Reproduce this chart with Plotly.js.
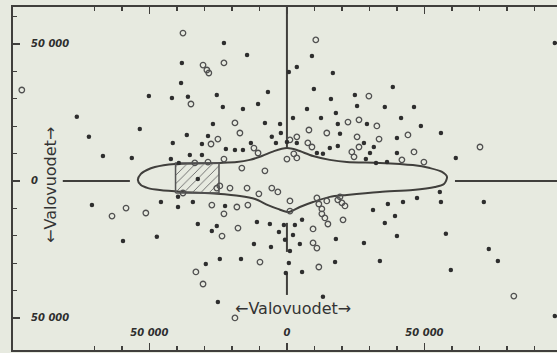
<!DOCTYPE html>
<html>
<head>
<meta charset="utf-8">
<script src="https://cdn.plot.ly/plotly-3.0.1.min.js"></script>
<style>html,body{margin:0;padding:0;background:#e7eae0;}#chart{width:557px;height:353px;}</style>
</head>
<body>
<div id="chart"></div>
<script>
// Filled dots (light-years)
const dotX = [-22900,-14500,-38200,-38500,-50200,-41800,-36000,-25500,-6900,-23300,-16000,-10500,-76400,-53500,-72000,-26900,-8000,-2500,-36400,-28700,-30900,-41500,-22200,-18900,-16000,-13100,-5500,-4000,-2200,-66900,-56400,-35300,-30900,-42200,-39300,700,3600,9100,16700,9800,38500,16000,24700,25500,35600,7300,46200,2200,12400,17800,41500,18500,29100,48700,56000,19300,40000,28000,18500,15600,31600,40000,61400,36400,32400,28700,0,3600,10900,13100,30200,97400,
-70900,-45800,-39600,-34200,-39600,-22500,-59600,-47300,-32400,-25500,-27300,-10900,-6200,-12000,-5800,-24400,-16700,-29500,-25100,5500,-1100,2900,-2900,2200,-700,4700,17800,1100,700,-400,5500,17500,13100,31300,36700,42200,47300,55600,56000,71600,35600,39300,40000,28000,33800,57800,59600,73400,76700,97400,-32400];
const dotY = [50400,46000,43100,35800,31000,30300,30700,31400,32500,27000,26300,28100,23400,19000,16100,20800,21200,20800,16800,16400,13500,13900,11700,11300,11300,13900,16100,13900,17500,9100,8400,9500,9500,8000,6600,39800,41600,45600,39400,33600,34300,29900,31400,27400,27000,26300,27000,23000,23000,24800,23000,20800,20800,20100,17500,17200,15700,13900,12800,12000,12400,10200,8400,6900,6600,8000,14200,13900,10200,9900,10200,50400,
-8800,-7700,-9500,-7700,-5800,-9100,-21900,-20400,-15700,-16400,-18300,-15000,-15700,-23000,-24100,-28500,-28500,-30300,-44200,-14200,-16100,-16100,-18600,-19700,-21500,-23000,-21200,-25600,-29900,-33600,-33200,-29600,-42300,-10600,-8400,-7700,-6200,-4000,-7700,-7700,-15300,-12800,-20100,-22600,-29200,-19300,-32500,-24800,-29200,-49300,700];

// Open circles (light-years)
const openX = [-37800,10500,-30500,-29100,-28400,-22900,-96400,-34900,-18900,-17100,-25100,-27600,-12000,-10500,-33500,-28700,-22900,-16400,-8000,29800,22200,26200,32700,8000,14500,25500,33500,44000,26200,23600,24400,46200,49800,41800,70200,1100,3600,7600,9100,2500,3600,0,
-58500,-63600,-51300,-27300,-18200,-14200,-22900,-23600,-17800,-9800,-33100,-30500,-18900,-25500,-24400,-20700,-14500,-10200,-5500,-3300,1100,1100,10900,11600,12700,14500,18500,20000,21100,19300,12700,13800,14900,20400,9500,9500,10900,11600,82500,-37800];
const openY = [54000,51500,42300,40500,39400,43100,33200,28100,21200,17500,15300,13500,12000,10200,6600,6900,8000,4700,3700,31000,21500,22300,20100,18600,17500,16100,15300,16800,12400,10600,8800,10600,6900,7700,12400,15000,16100,13900,12400,9900,8400,8000,
-9900,-12800,-11700,-8800,-9500,-8800,-12000,-20100,-17200,-29600,-33200,-37600,-50000,-2600,-1800,-2600,-2600,-4700,-2600,-4000,-7300,-11000,-6200,-8400,-10200,-7300,-6900,-8000,-9100,-5800,-12000,-13500,-15700,-14200,-17500,-22600,-24500,-31400,-42000,-4400];

// Galaxy outline (light-years)
const galaxyX = [-54200,-53100,-50900,-48000,-40700,-24400,-18200,-13500,-9100,-4700,0,3600,9500,15600,21800,33800,45800,52000,56400,58200,57100,53800,45800,33800,21800,15600,9500,4700,700,-3300,-6900,-11600,-17100,-25500,-37800,-46200,-50500,-53100,-54200];
const galaxyY = [400,2600,4000,5100,6200,6600,6900,7700,9100,10900,12000,11300,9100,7700,6900,6600,5800,4700,3300,1500,-1100,-2200,-3300,-4000,-5100,-5800,-7700,-9500,-11300,-10200,-8800,-6600,-5500,-4700,-4000,-3300,-2600,-1500,400];

// Sun region (hatched box)
const boxX = [-40500,-24700,-24700,-40500,-40500];
const boxY = [-4400,-4400,6600,6600,-4400];

// Reference lines
const vLineX = [0,0,null,0,0,null,0,0];
const vLineY = [63500,12000,null,-15300,-25900,null,-33600,-41600];
const hLineX = [-81500,-57100,null,61100,100000];
const hLineY = [0,0,null,0,0];

// Tick labels
const tickVals = [-50000,0,50000];
const xTickText = ['50 000','0','50 000'];
const yTickText = ['50 000','0','50 000'];
const axisLabel = '←Valovuodet→';

const ink = '#403f3c';
const traces = [
  {x: galaxyX, y: galaxyY, mode:'lines', line:{color:ink, width:2, shape:'spline', smoothing:0.8}, hoverinfo:'skip'},
  {x: vLineX, y: vLineY, mode:'lines', line:{color:ink, width:2}, connectgaps:false},
  {x: hLineX, y: hLineY, mode:'lines', line:{color:ink, width:2}, connectgaps:false},
  {x: boxX, y: boxY, mode:'lines', fill:'toself', fillcolor:'rgba(0,0,0,0)',
   fillpattern:{shape:'/', fgcolor:'#666', bgcolor:'rgba(0,0,0,0)', size:6, solidity:0.15},
   line:{color:'#555', width:1.5}},
  {x: openX, y: openY, mode:'markers', marker:{symbol:'circle-open', size:5.5, color:'#505050', line:{width:1.3}}},
  {x: dotX, y: dotY, mode:'markers', marker:{symbol:'circle', size:4.5, color:'#2e2e2e'}}
];

const tickFont = {family:'DejaVu Sans', size:10, style:'italic', weight:'bold', color:'#2e2e2e'};
const layout = {
  width:557, height:353,
  margin:{l:13, r:0, t:7, b:3, pad:0},
  paper_bgcolor:'#e7eae0', plot_bgcolor:'#e7eae0',
  showlegend:false,
  xaxis:{range:[-99600,98200], showgrid:false, zeroline:false,
    showline:true, linecolor:ink, linewidth:2, mirror:'ticks',
    ticks:'inside', ticklen:7, tickwidth:1.5, tickcolor:ink,
    tickmode:'array', tickvals:tickVals, ticktext:xTickText,
    ticklabelposition:'inside', ticklabelstandoff:4, tickfont:tickFont,
    minor:{ticks:'inside', ticklen:4, tickwidth:1.2, tickcolor:ink, tickmode:'linear', tick0:0, dtick:10000}},
  yaxis:{range:[-61700,63500], showgrid:false, zeroline:false,
    showline:true, linecolor:ink, linewidth:2, mirror:false,
    ticks:'inside', ticklen:7, tickwidth:1.5, tickcolor:ink,
    tickmode:'array', tickvals:tickVals, ticktext:yTickText,
    ticklabelposition:'inside', ticklabelstandoff:10, tickfont:tickFont,
    minor:{ticks:'inside', ticklen:4, tickwidth:1.2, tickcolor:ink, tickmode:'linear', tick0:0, dtick:10000}},
  annotations:[
    {x:2200, y:-46700, xref:'x', yref:'y', text:axisLabel, showarrow:false,
     font:{family:'DejaVu Sans', size:16, color:'#333'}},
    {x:-86200, y:-1500, xref:'x', yref:'y', text:axisLabel, showarrow:false, textangle:-90,
     font:{family:'DejaVu Sans', size:16, color:'#333'}}
  ]
};
Plotly.newPlot('chart', traces, layout, {staticPlot:true, displayModeBar:false});
</script>
</body>
</html>
